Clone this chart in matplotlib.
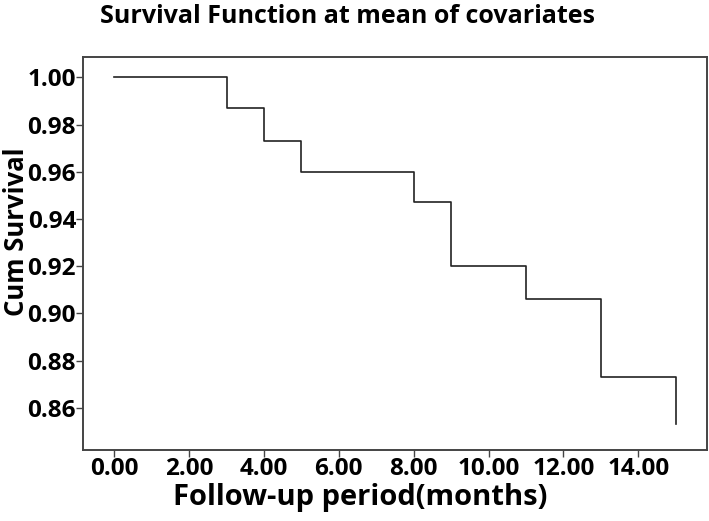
import numpy as np
import matplotlib.pyplot as plt

# step survival curve
months = [0, 3, 4, 5, 8, 9, 11, 13, 15]
cum_survival = [1.000, 0.987, 0.973, 0.960, 0.947, 0.920, 0.906, 0.873, 0.853]

x_ticks = [0, 2, 4, 6, 8, 10, 12, 14]
y_ticks = [0.86, 0.88, 0.90, 0.92, 0.94, 0.96, 0.98, 1.00]

plt.rcParams['font.family'] = ['Open Sans', 'DejaVu Sans']

fig = plt.figure(figsize=(7.09, 5.21), dpi=100)
ax = fig.add_axes([0.117, 0.1363, 0.880, 0.7543])

ax.plot(months, cum_survival, drawstyle='steps-post', color='#222222', linewidth=1.2)

ax.set_xlim(-0.836, 15.83)
ax.set_ylim(0.8422, 1.0086)
ax.set_xticks(x_ticks)
ax.set_xticklabels([f'{v:.2f}' for v in x_ticks])
ax.set_yticks(y_ticks)
ax.set_yticklabels([f'{v:.2f}' for v in y_ticks])

for s in ax.spines.values():
    s.set_color('#444444')
    s.set_linewidth(1.4)

ax.tick_params(axis='both', direction='out', length=5, width=1, color='#444444', labelsize=17.5, pad=0)
for lbl in ax.get_xticklabels() + ax.get_yticklabels():
    lbl.set_fontweight('bold')

ax.set_xlabel('Follow-up period(months)', fontsize=21, fontweight='bold')
ax.xaxis.set_label_coords(0.445, -0.085)
ax.set_ylabel('Cum Survival', fontsize=18.5, fontweight='bold', va='center')
ax.yaxis.set_label_coords(-0.107, 0.555)
fig.text(0.49, 0.969, 'Survival Function at mean of covariates', fontsize=18,
         fontweight='bold', ha='center', va='center')

fig.savefig('out.png', dpi=100)
